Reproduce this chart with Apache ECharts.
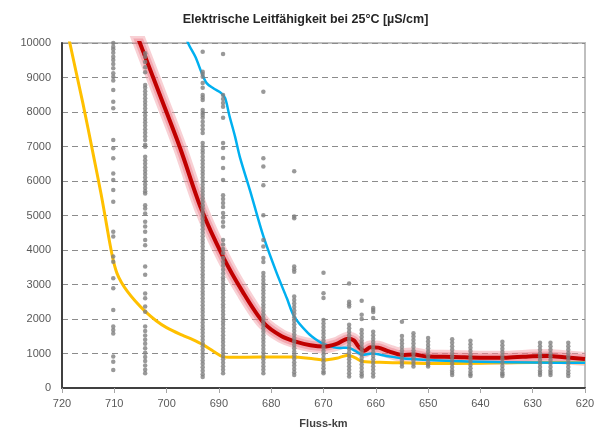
<!DOCTYPE html>
<html>
<head>
<meta charset="utf-8">
<script src="https://cdn.jsdelivr.net/npm/echarts@6/dist/echarts.min.js"></script>
<style>
  html, body { margin: 0; padding: 0; background: #fff; }
  #chart { width: 611px; height: 434px; }
</style>
</head>
<body>
<div id="chart"></div>
<script>
// Messstellen (Fluss-km) und Einzelwerte je Messstelle
var colKm = [710.2, 704.1, 693.1, 689.2, 681.5, 675.6, 670.0, 665.1, 662.7, 660.5,
             655.0, 652.8, 650.0, 645.4, 641.9, 635.8, 628.6, 626.6, 623.2];

var c710 = [10000, 9890, 9820, 9720, 9600, 9510, 9390, 9270, 9120, 9020, 8910, 8640, 8300, 8110,
            7190, 6950, 6660, 6220, 6030, 5740, 5400, 4530, 4390, 3810, 3660, 3180, 2890, 2260,
            1780, 1680, 1580, 910, 760, 520];
var c704 = [9700, 9600, 9450, 9300, 9150, 8780, 8700, 8600, 8500, 8400, 8300, 8200, 8100, 8000,
            7900, 7800, 7700, 7600, 7500, 7400, 7300, 7190, 7050, 6990, 6700, 6600, 6500, 6400,
            6300, 6200, 6100, 6000, 5900, 5800, 5700, 5640, 5300, 5200, 5060, 4820, 4680, 4530,
            4290, 4140, 3520, 3280, 2740, 2600, 2360, 2210, 1780, 1650, 1520, 1400, 1280, 1150,
            1020, 900, 780, 650, 530, 430];
var c693 = [9750, 9170, 9100, 9020, 8840, 8700, 8490, 8420, 8350, 8060, 7980, 7910, 7830, 7720,
            7610, 7500, 7390, 7100, 7000, 6900, 6810, 6700, 6600, 6500, 6400, 6300, 6200, 6100,
            6000, 5900, 5800, 5700, 5600, 5500, 5400, 5300, 5200, 5100, 5000, 4900, 4800, 4700,
            4600, 4500, 4400, 4300, 4200, 4100, 4000, 3900, 3800, 3700, 3600, 3500, 3400, 3300,
            3200, 3100, 3000, 2900, 2800, 2700, 2600, 2500, 2400, 2300, 2200, 2100, 2000, 1900,
            1800, 1700, 1600, 1500, 1400, 1300, 1200, 1100, 1000, 900, 800, 700, 600, 500, 400, 320];
var c689 = [9680, 8490, 8380, 8260, 8150, 7830, 7100, 6960, 6670, 6380, 6030, 5590, 5480, 5360,
            5250, 5070, 4940, 4810, 4680, 4290, 4160, 4030, 3910, 3770, 3650, 3540, 3430, 3320,
            3210, 3130, 3030, 2930, 2830, 2730, 2630, 2530, 2430, 2330, 2230, 2130, 2030, 1930,
            1830, 1730, 1630, 1530, 1430, 1330, 1230, 1130, 1030, 930, 830, 730, 630, 530, 430];
var c681 = [8590, 6660, 6420, 5880, 5010, 4290, 4100, 3770, 3650, 3330, 3230, 3130, 3030, 2930,
            2830, 2730, 2630, 2530, 2430, 2330, 2230, 2130, 2030, 1930, 1830, 1730, 1630, 1530,
            1430, 1330, 1230, 1130, 1030, 930, 830, 730, 630, 530, 430];
var c675 = [6280, 4970, 4920, 3520, 3440, 3370, 2650, 2550, 2450, 2350, 2250, 2150, 2050, 1950,
            1850, 1750, 1650, 1550, 1450, 1350, 1250, 1150, 1050, 950, 850, 750, 650, 550, 460, 380];
var c670 = [3340, 2750, 2610, 1970, 1870, 1770, 1670, 1570, 1470, 1370, 1270, 1170, 1070, 970,
            870, 770, 670, 570, 480, 430];
var c665 = [3030, 2500, 2430, 2360, 1830, 1730, 1630, 1530, 1430, 1330, 1230, 1130, 1030, 930,
            830, 730, 630, 530, 430, 330];
var c662 = [2530, 2120, 2000, 1680, 1580, 1480, 1380, 1280, 1180, 1080, 980, 880, 780, 680,
            580, 480, 400, 330];
var c660 = [2320, 2260, 2200, 2030, 1630, 1530, 1430, 1330, 1230, 1130, 1030, 930, 830, 730,
            630, 530, 430, 330];
var c655 = [1920, 1510, 1390, 1290, 1190, 1090, 990, 890, 790, 700, 620];
var c653 = [1590, 1490, 1390, 1290, 1190, 1090, 990, 890, 790, 700, 620];
var c650 = [1450, 1350, 1250, 1150, 1050, 950, 850, 750, 680, 620];
var c645 = [1410, 1310, 1210, 1110, 1010, 910, 810, 710, 610, 510, 440, 380];
var c642 = [1370, 1270, 1170, 1070, 970, 870, 770, 670, 570, 470, 400, 350];
var c636 = [1340, 1240, 1140, 1040, 940, 840, 740, 640, 540, 450, 400, 350];
var c629 = [1310, 1210, 1110, 1010, 910, 810, 710, 610, 510, 440, 380];
var c627 = [1310, 1210, 1110, 1010, 910, 810, 710, 610, 510, 440, 380];
var c623 = [1310, 1210, 1110, 1010, 910, 810, 710, 610, 510, 430, 350];

var colVals = [c710, c704, c693, c689, c681, c675, c670, c665, c662, c660,
               c655, c653, c650, c645, c642, c636, c629, c627, c623];

// Kurven
var redKm  = [706.5, 705.1, 701.3, 697.4, 693.4, 689.2, 685.5, 681.5, 678, 675, 672.5, 670,
              667.5, 665.3, 664.2, 663.2, 662.2, 661, 659.5, 657.5, 655, 652.8, 650, 645, 640,
              635, 630, 627, 624, 620];
var redVal = [10550, 10000, 8500, 6950, 5200, 3800, 2800, 1900, 1500, 1330, 1240, 1200,
              1280, 1430, 1380, 1180, 1080, 1180, 1170, 1060, 960, 970, 910, 900, 880,
              880, 920, 930, 890, 840];

var blueKm  = [697, 695.9, 694.5, 693.2, 692.3, 691, 689.5, 688.8, 688, 686.9, 686, 684, 681.5,
               679, 677, 675.6, 673, 671, 670, 667, 665.3, 664, 662.5, 660.8, 658, 655, 650,
               645, 640, 630, 620];
var blueVal = [10500, 10000, 9600, 9100, 8830, 8680, 8540, 8400, 7900, 7280, 6700, 5700, 4400,
               3350, 2600, 2070, 1600, 1360, 1280, 1160, 1170, 1080, 960, 1000, 930, 860, 810,
               780, 760, 740, 730];

var orangeKm  = [719.5, 718.5, 716, 714, 712.5, 711.5, 710.8, 710.2, 709.5, 708.6, 707.5, 706,
                 704.1, 702, 700, 697, 695, 693, 691, 689.3, 688, 682, 676, 672, 670, 667.5,
                 665.3, 664, 662.5, 658, 655, 650, 640, 630, 620];
var orangeVal = [10800, 10000, 8250, 6750, 5600, 4750, 4150, 3700, 3330, 3050, 2800, 2520,
                 2220, 1950, 1750, 1530, 1400, 1250, 1060, 910, 890, 895, 900, 850, 810, 860,
                 950, 880, 770, 740, 730, 710, 720, 740, 730];

function pairs(xs, ys) {
    var out = [];
    for (var i = 0; i < xs.length; i++) out.push([xs[i], ys[i]]);
    return out;
}

var dots = [];
for (var i = 0; i < colKm.length; i++) {
    for (var j = 0; j < colVals[i].length; j++) dots.push([colKm[i], colVals[i][j]]);
}

var myChart = echarts.init(document.getElementById('chart'));
var font = 'Liberation Sans, Arial, sans-serif';

function curve(data, z, color, width) {
    return {
        type: 'line', data: data, smooth: 0.3, symbol: 'none', z: z,
        lineStyle: { color: color, width: width, join: 'round' }
    };
}

var option = {
    animation: false,
    title: {
        text: 'Elektrische Leitfähigkeit bei 25°C [µS/cm]',
        left: 'center',
        top: 8,
        textStyle: { fontFamily: font, fontSize: 12.5, fontWeight: 'bold', color: '#262626' }
    },
    grid: {
        left: 62, right: 26, top: 43, bottom: 46,
        show: true, borderColor: '#bfbfbf', borderWidth: 2
    },
    xAxis: [
        {
            type: 'value', min: 620, max: 720, interval: 10, inverse: true,
            name: 'Fluss-km', nameLocation: 'middle', nameGap: 30,
            nameTextStyle: { fontFamily: font, fontSize: 11, fontWeight: 'bold', color: '#404040' },
            axisLine: { show: true, onZero: false, lineStyle: { color: '#a6a6a6', width: 1.5 } },
            axisTick: { show: true, length: 5, lineStyle: { color: '#a6a6a6' } },
            axisLabel: { fontFamily: font, fontSize: 11, color: '#595959', margin: 10 },
            splitLine: { show: false }
        },
        {
            type: 'value', min: 620, max: 720, inverse: true, position: 'top',
            axisLine: { show: true, lineStyle: { color: '#404040', width: 2 } },
            axisTick: { show: false }, axisLabel: { show: false }, splitLine: { show: false }
        }
    ],
    yAxis: [
        {
            type: 'value', min: 0, max: 10000, interval: 1000,
            axisLine: { show: true, lineStyle: { color: '#404040', width: 2 } },
            axisTick: { show: false },
            axisLabel: {
                fontFamily: font, fontSize: 11, color: '#595959', margin: 11,
                formatter: function (v) { return String(v); }
            },
            splitLine: { show: true, lineStyle: { type: [6, 4], color: '#8c8c8c', width: 1 } }
        }
    ],
    series: [
        curve(pairs(redKm, redVal), 2, 'rgba(240,150,160,0.45)', 14),
        curve(pairs(redKm, redVal), 2, 'rgba(235,110,125,0.4)', 9),
        curve(pairs(orangeKm, orangeVal), 3, '#FFC000', 3),
        curve(pairs(blueKm, blueVal), 3, '#00B0F0', 2.5),
        curve(pairs(redKm, redVal), 4, '#C00000', 4),
        {
            type: 'scatter', data: dots, symbol: 'circle', symbolSize: 4.5, z: 5,
            itemStyle: { color: '#7f7f7f' }
        }
    ]
};
myChart.setOption(option);
</script>
</body>
</html>
